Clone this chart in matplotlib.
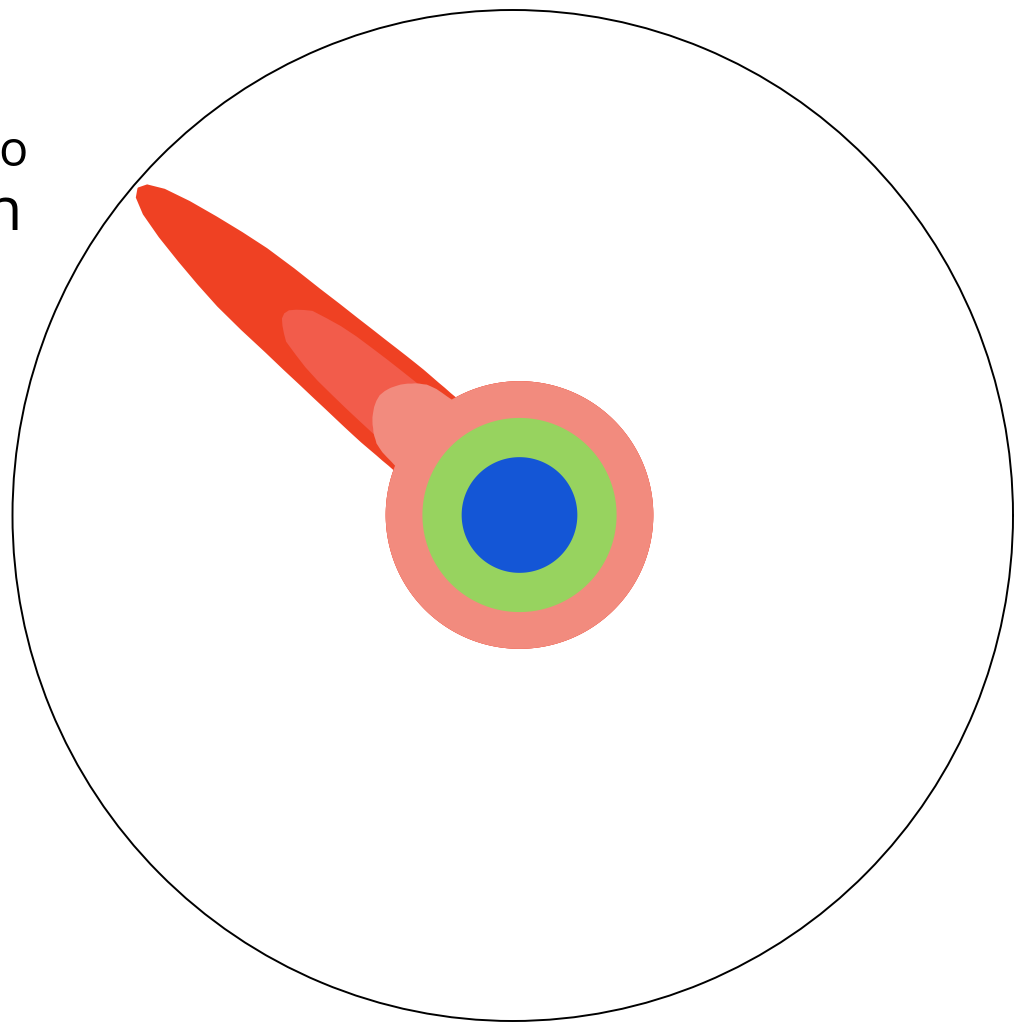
import numpy as np
import matplotlib
matplotlib.use("Agg")
import matplotlib.pyplot as plt

# ---------------- data (radius in % of the outer circle) ----------------
peak_direction_deg = 139.4
lobe_offsets_deg = list(range(0, 22))

series_names = ["red", "coral", "salmon", "green", "blue"]
series_colors = ["#ef4123", "#f25c4b", "#f28b7e", "#97d35f", "#1456d6"]
series_base = [26.6, 26.6, 26.6, 19.3, 11.5]

red_lobe = [100, 99.0, 95.8, 90.5, 84.5, 78.7, 73.0, 66.4, 60.0, 55.1, 50.7,
            47.1, 43.9, 41.2, 38.8, 36.6, 34.6, 32.6, 30.8, 29.3, 27.8, 26.6]
coral_lobe = [61.6, 61.3, 60.3, 59.1, 57.8, 54.7, 51.7, 48.1, 44.1, 40.6, 37.4,
              34.6, 32.2, 30.0, 28.0, 26.6, 26.6, 26.6, 26.6, 26.6, 26.6, 26.6]
salmon_lobe = [36.6, 36.5, 36.4, 36.2, 36.0, 35.7, 35.4, 35.1, 34.7, 34.3, 33.8,
               33.4, 32.9, 32.3, 31.8, 30.9, 30.0, 28.8, 27.6, 26.6, 26.6, 26.6]
series_lobes = [red_lobe, coral_lobe, salmon_lobe, None, None]

side_labels = ["o", "n"]

# ---------------- figure ----------------
W, H = 1015, 1023
fig = plt.figure(figsize=(W / 100, H / 100), dpi=100)
fig.patch.set_facecolor("white")

# outer ring axes
bg = fig.add_axes([12.5 / W, 2 / H, 1000.5 / W, 1011 / H], projection="polar")
bg.set_aspect("auto")
bg.set_xticks([])
bg.set_yticks([])
bg.grid(False)
bg.spines["polar"].set_linewidth(1.4)
bg.spines["polar"].set_color("black")

# data axes
cx, cy, R = 519.5, 1023 - 515, 503
ax = fig.add_axes([(cx - R) / W, (cy - R) / H, 2 * R / W, 2 * R / H], projection="polar")
ax.patch.set_alpha(0)
ax.spines["polar"].set_visible(False)
ax.set_xticks([])
ax.set_yticks([])
ax.grid(False)
ax.set_ylim(0, 100)


def outline(base, lobe):
    if lobe is None:
        theta = np.linspace(0, 2 * np.pi, 721)
        return theta, np.full(theta.size, base)
    th0 = np.deg2rad(peak_direction_deg)
    off = np.deg2rad(lobe_offsets_deg)
    lobe = np.asarray(lobe, dtype=float)
    th_lobe = np.concatenate([th0 - off[::-1], th0 + off[1:]])
    r_lobe = np.concatenate([lobe[::-1], lobe[1:]])
    arc = np.linspace(th0 + off[-1], th0 + 2 * np.pi - off[-1], 400)[1:-1]
    theta = np.concatenate([th_lobe, arc])
    r = np.concatenate([r_lobe, np.full(arc.size, base)])
    return theta, r


for name, color, base, lobe in zip(series_names, series_colors, series_base, series_lobes):
    th, r = outline(base, lobe)
    ax.fill(th, r, color=color, linewidth=0, label=name)

fig.text(-1.3 / W, (H - 166) / H, side_labels[0], fontsize=35, family="Open Sans",
         ha="left", va="baseline", color="black")
fig.text(-15.5 / W, (H - 230) / H, side_labels[1], fontsize=44, family="Open Sans",
         ha="left", va="baseline", color="black")

fig.savefig("out.png", dpi=100, facecolor="white")
